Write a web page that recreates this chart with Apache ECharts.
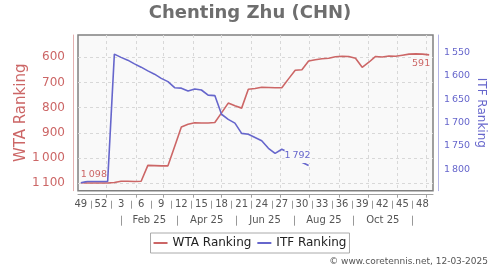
<!DOCTYPE html>
<html><head><meta charset="utf-8">
<script src="https://cdn.jsdelivr.net/npm/echarts@6/dist/echarts.min.js"></script>
<style>html,body{margin:0;padding:0;background:#fff}#c{width:500px;height:270px}</style>
</head><body><div id="c"></div>
<script>
const titleText = 'Chenting Zhu (CHN)';
const seriesNames = ['WTA Ranking', 'ITF Ranking'];
const firstWeekDate = '2024-12-05'; // week 49 of 2024
const weekNumbers = [49,50,51,52,1,2,3,4,5,6,7,8,9,10,11,12,13,14,15,16,17,18,19,20,21,22,23,24,25,26,27,28,29,30,31,32,33,34,35,36,37,38,39,40,41,42,43,44,45,46,47,48,49];
const wtaRanking = [1098,1099,1099,1099,1099,1097,1092,1092,1093,1092,1029,1030,1031,1031,954,877,866,860,861,861,859,821,782,793,802,727,724,719,720,721,721,686,652,650,615,610,606,604,598,596,597,604,640,620,597,599,595,596,592,588,587,588,591];
const itfRanking = [1829,1826,1826,1826,1826,1553,1560,1566,1574,1581,1589,1596,1605,1612,1625,1626,1632,1628,1630,1641,1642,1682,1693,1701,1723,1725,1732,1739,1755,1766,1757,1764,1776,1785,1792];
const weekTickLabels = ['49','52','3','6','9','12','15','18','21','24','27','30','33','36','39','42','45','48'];
const monthLabels = ['Feb 25','Apr 25','Jun 25','Aug 25','Oct 25'];
const wtaTicks = [600,700,800,900,1000,1100];
const itfTicks = [1550,1600,1650,1700,1750,1800];
const sourceText = '\u00a9 www.coretennis.net, 12-03-2025';

const DAY = 86400000;
const base = Date.UTC(2025,0,1);
const dayOf = ms => Math.round((ms - base) / DAY);
const startDay = dayOf(Date.parse(firstWeekDate));
const xOf = k => startDay + 7 * k;
const xMin = startDay - 3, xMax = xOf(weekNumbers.length - 1) + 4;

const fmt = v => v >= 1000 ? Math.floor(v/1000) + '\u2009' + String(v % 1000).padStart(3,'0') : String(v);

const weekLabelPos = weekTickLabels.map(l => xOf(weekNumbers.indexOf(+l)));
const weekLabelMap = {};
weekLabelPos.forEach((p,i) => weekLabelMap[p] = weekTickLabels[i]);
const weekSeps = weekLabelPos.slice(1).map((p,i) => (p + weekLabelPos[i]) / 2);
const monthStarts = [];
for (let m = 0; m < 12; m++) monthStarts.push(dayOf(Date.UTC(2025, m, 1)));
const monthSeps = [];
for (let j = 0; j < 6; j++) monthSeps.push(dayOf(Date.UTC(2025, 2*j, 16)));
const monthLabelPos = monthSeps.slice(1).map((p,i) => (p + monthSeps[i]) / 2);
const monthLabelMap = {};
monthLabelPos.forEach((p,i) => monthLabelMap[p] = monthLabels[i]);

const RED = '#cc6666', BLUE = '#6666cc', BG = '#f9f9f9';
const labelBase = {show:true, fontSize:9.5, backgroundColor:BG, lineHeight:12, formatter: p => fmt(p.value[1])};

const wtaData = wtaRanking.map((v,k) => {
  const item = {value:[xOf(k), v]};
  if (k === 0) item.label = Object.assign({}, labelBase, {position:'top', align:'left', distance:2.2, color:RED});
  if (k === wtaRanking.length - 1) item.label = Object.assign({}, labelBase, {position:'bottom', align:'right', distance:2.3, offset:[1,0], color:RED});
  return item;
});
const itfData = itfRanking.map((v,k) => {
  const item = {value:[xOf(k), v]};
  if (k === itfRanking.length - 1) item.label = Object.assign({}, labelBase, {position:'top', align:'right', distance:2.5, offset:[2,0], padding:[0,0,1,0], color:BLUE});
  return item;
});

const baseX = {type:'value', min:xMin, max:xMax, position:'bottom', axisLine:{show:false, onZero:false}, splitLine:{show:false}, axisTick:{show:false}, axisLabel:{show:false}};

const chart = echarts.init(document.getElementById('c'), null, {renderer:'canvas'});
chart.setOption({
  animation:false,
  color:[RED, BLUE],
  textStyle:{fontFamily:'DejaVu Sans'},
  title:{text:titleText, left:'center', top:0, padding:[4,0,0,0], textStyle:{fontSize:18, fontWeight:'bold', color:'#6e6e6e', fontFamily:'DejaVu Sans'}},
  grid:{left:78, right:67, top:35, bottom:79.3, show:true, backgroundColor:BG, borderColor:'#808080', borderWidth:1.5},
  legend:{top:233, left:'center', itemWidth:14, itemHeight:2, itemGap:6, icon:'rect', padding:[4,3], borderColor:'#aaa', borderWidth:1, textStyle:{fontSize:12, color:'#222'}, data:seriesNames},
  xAxis:[
    Object.assign({}, baseX, {offset:4,
      axisLine:{show:true, onZero:false, lineStyle:{color:'#a0a0a0'}},
      axisTick:{show:true, customValues:monthStarts, length:3, lineStyle:{color:'#a0a0a0'}},
      splitLine:{show:true, lineStyle:{color:'#d8d8d8', type:[3,3]}},
      axisLabel:{show:true, customValues:weekLabelPos, formatter: v => weekLabelMap[v] || '', fontSize:10, color:'#555', margin:5}}),
    Object.assign({}, baseX, {offset:10,
      axisTick:{show:true, customValues:weekSeps, length:8, lineStyle:{color:'#999'}}}),
    Object.assign({}, baseX, {offset:25,
      axisTick:{show:true, customValues:monthSeps, length:10, lineStyle:{color:'#999'}},
      axisLabel:{show:true, customValues:monthLabelPos, formatter: v => monthLabelMap[v] || '', fontSize:10, color:'#555', margin:0}})
  ],
  yAxis:[
    {type:'value', inverse:true, min:512, max:1129.5, position:'left', offset:5,
     axisLine:{show:true, onZero:false, lineStyle:{color:'#e3b0b0'}},
     axisTick:{show:false, customValues:wtaTicks},
     axisLabel:{customValues:wtaTicks, formatter:fmt, color:RED, fontSize:12, margin:8},
     splitLine:{show:true, lineStyle:{color:'#d8d8d8', type:[3,3]}},
     name:seriesNames[0], nameLocation:'middle', nameGap:44, nameMoveOverlap:false, nameRotate:90, nameTextStyle:{color:RED, fontSize:15}},
    {type:'value', inverse:true, min:1512, max:1846, position:'right', offset:5,
     axisLine:{show:true, onZero:false, lineStyle:{color:'#b4b4e6'}},
     axisTick:{show:false, customValues:itfTicks},
     axisLabel:{customValues:itfTicks, formatter:fmt, color:BLUE, fontSize:9.5, margin:6},
     splitLine:{show:false},
     name:seriesNames[1], nameLocation:'middle', nameGap:37, nameMoveOverlap:false, nameRotate:-90, nameTextStyle:{color:BLUE, fontSize:12}}
  ],
  graphic:[{type:'text', right:12, top:257, style:{text:sourceText, fontSize:9, fill:'#555', fontFamily:'DejaVu Sans'}}],
  series:[
    {name:seriesNames[0], type:'line', xAxisIndex:0, yAxisIndex:0, data:wtaData, symbol:'circle', symbolSize:0, showSymbol:true, lineStyle:{width:1.6, color:RED}, itemStyle:{color:RED}, label:{show:false}, emphasis:{disabled:true}},
    {name:seriesNames[1], type:'line', xAxisIndex:0, yAxisIndex:1, data:itfData, symbol:'circle', symbolSize:0, showSymbol:true, lineStyle:{width:1.6, color:BLUE}, itemStyle:{color:BLUE}, label:{show:false}, emphasis:{disabled:true}}
  ]
});
</script></body></html>
